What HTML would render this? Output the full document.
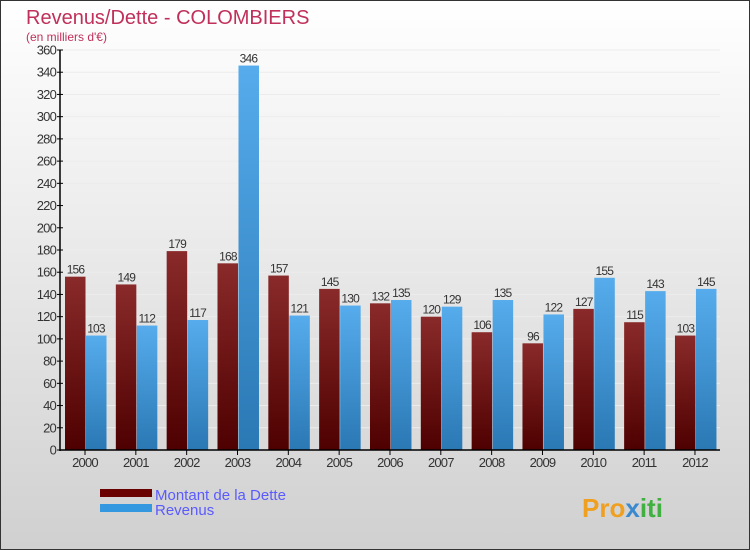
<!DOCTYPE html>
<html><head><meta charset="utf-8"><style>
body{margin:0;width:750px;height:550px;overflow:hidden}
svg{display:block;font-family:"Liberation Sans",sans-serif}
</style></head><body>
<svg id="c" width="750" height="550">
<defs>
<linearGradient id="bg" x1="0" y1="0" x2="0" y2="1"><stop offset="0" stop-color="#ffffff"/><stop offset="1" stop-color="#d0d0d0"/></linearGradient>
<linearGradient id="gr" x1="0" y1="0" x2="0" y2="1"><stop offset="0" stop-color="#8a2a2a"/><stop offset="1" stop-color="#4e0000"/></linearGradient>
<linearGradient id="gb" x1="0" y1="0" x2="0" y2="1"><stop offset="0" stop-color="#56acec"/><stop offset="1" stop-color="#2a78b4"/></linearGradient>
</defs>
<rect x="0.5" y="0.5" width="749" height="549" fill="url(#bg)" stroke="#333"/>
<text x="26" y="24" font-size="20" fill="#c0305a">Revenus/Dette - COLOMBIERS</text>
<text x="26" y="41" font-size="12" fill="#c0305a">(en milliers d'€)</text>
<g id="plot"></g>
<rect x="100" y="489" width="52" height="8" fill="#6a0000"/>
<text x="155" y="500" font-size="15" fill="#5a5aff">Montant de la Dette</text>
<rect x="100" y="504" width="52" height="8" fill="#3398e0"/>
<text x="155" y="515" font-size="15" fill="#5a5aff">Revenus</text>
<text x="582" y="517" font-size="26" font-weight="bold" fill="#f0a020">Pro<tspan fill="#3a8ad0">x</tspan><tspan fill="#40b040">iti</tspan></text>
</svg>
<script>
const years=["2000","2001","2002","2003","2004","2005","2006","2007","2008","2009","2010","2011","2012"];
const dette=[156,149,179,168,157,145,132,120,106,96,127,115,103];
const revenus=[103,112,117,346,121,130,135,129,135,122,155,143,145];
const yTicks=[0,20,40,60,80,100,120,140,160,180,200,220,240,260,280,300,320,340,360];
const NS="http://www.w3.org/2000/svg";
const g=document.getElementById('plot');
const y=v=>450-v*400/360;
const x=i=>85+i*50.83;
function mk(t,a,txt){const e=document.createElementNS(NS,t);for(const k in a)e.setAttribute(k,a[k]);if(txt!==undefined)e.textContent=txt;g.appendChild(e);return e;}
yTicks.forEach(v=>{
 const l=mk('line',{x1:60,x2:720,y1:y(v),y2:y(v),stroke:'#ececec','stroke-width':1});
 
 
 const t=mk('line',{x1:57,x2:63,y1:y(v),y2:y(v),stroke:'#000'});
 
 
 const lb=mk('text',{x:56,y:y(v)+4.5,'font-size':13,fill:'#333','text-anchor':'end','letter-spacing':'-0.8'},v);
 
 
});
years.forEach((yr,i)=>{
 const b1=mk('rect',{x:x(i)-20,y:y(dette[i]),width:20.5,height:450-y(dette[i]),fill:'url(#gr)'});
 
 
 const b2=mk('rect',{x:x(i)+1,y:y(revenus[i]),width:20.5,height:450-y(revenus[i]),fill:'url(#gb)'});
 
 
 const v1=mk('text',{x:x(i)-9.5,y:y(dette[i])-3,'font-size':12,fill:'#333','text-anchor':'middle','letter-spacing':'-0.8'},dette[i]);
 
 
 const v2=mk('text',{x:x(i)+11,y:y(revenus[i])-3,'font-size':12,fill:'#333','text-anchor':'middle','letter-spacing':'-0.8'},revenus[i]);
 
 
 const tk=mk('line',{x1:x(i),x2:x(i),y1:450,y2:455,stroke:'#000'});
 
 
 const xl=mk('text',{x:x(i),y:467,'font-size':13,fill:'#333','text-anchor':'middle','letter-spacing':'-0.8'},yr);
 
 
});
const ax=mk('line',{x1:60,x2:60,y1:50,y2:451,stroke:'#000','stroke-width':1.5});


const bx=mk('line',{x1:60,x2:720,y1:450,y2:450,stroke:'#000','stroke-width':1.5});


</script>
</body></html>
